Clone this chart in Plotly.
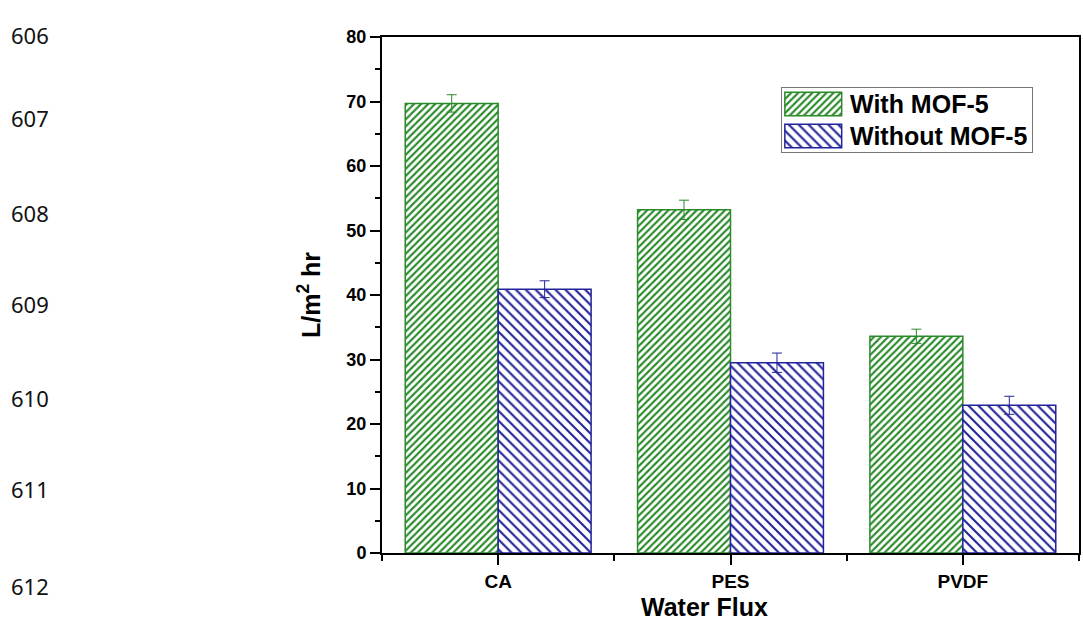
import plotly.graph_objects as go

# Membrane types and measured water flux (L/m2 hr)
categories = ["CA", "PES", "PVDF"]
with_mof = [69.7, 53.2, 33.6]
with_mof_err = [1.35, 1.5, 1.1]
without_mof = [40.9, 29.5, 22.9]
without_mof_err = [1.3, 1.5, 1.4]
y_ticks = [0, 10, 20, 30, 40, 50, 60, 70, 80]
series_names = ["With MOF-5", "Without MOF-5"]
line_numbers = ["606", "607", "608", "609", "610", "611", "612"]

x_pos = list(range(len(categories)))

GREEN = "#2a8a2a"
BLUE = "#22229a"
FONT = "Liberation Sans, Arial, sans-serif"

green_pattern = dict(shape="/", fgcolor=GREEN, bgcolor="white", fgopacity=1,
                     size=5, solidity=0.42, fillmode="overlay")
blue_pattern = dict(shape="\\", fgcolor=BLUE, bgcolor="white", fgopacity=1,
                    size=7, solidity=0.3, fillmode="overlay")

fig = go.Figure()
fig.add_trace(go.Bar(
    x=x_pos, y=with_mof, name=series_names[0], showlegend=False,
    marker=dict(color="white", line=dict(color=GREEN, width=1.5), pattern=green_pattern),
    error_y=dict(type="data", array=with_mof_err, color=GREEN, thickness=1, width=5),
))
fig.add_trace(go.Bar(
    x=x_pos, y=without_mof, name=series_names[1], showlegend=False,
    marker=dict(color="white", line=dict(color=BLUE, width=1.5), pattern=blue_pattern),
    error_y=dict(type="data", array=without_mof_err, color=BLUE, thickness=1, width=5),
))

# Legend box drawn on its own small axes so the keys are large hatched swatches
for i, (name, pat, col) in enumerate(zip(series_names,
                                         [green_pattern, blue_pattern],
                                         [GREEN, BLUE])):
    fig.add_trace(go.Bar(
        x=[57], y=[i + 0.5], base=[3], orientation="h", width=0.74,
        xaxis="x2", yaxis="y2", showlegend=False, hoverinfo="skip",
        marker=dict(color="white", line=dict(color=col, width=1.5), pattern=pat),
    ))
    fig.add_annotation(
        text=f"<b>{name}</b>", xref="x2", yref="y2", x=66, y=i + 0.5,
        xanchor="left", yanchor="middle", showarrow=False,
        font=dict(family=FONT, size=25, color="black"),
    )

# X axis title, set slightly left of the plot centre
fig.add_annotation(
    text="<b>Water Flux</b>", xref="paper", yref="paper",
    x=(705 - 382) / 699, y=(553 - 607) / 516, xanchor="center", yanchor="middle",
    showarrow=False, font=dict(family=FONT, size=25, color="black"),
)

# Document line numbers down the left margin
line_y = [35, 118, 213, 304, 398, 489, 586]
for txt, yy in zip(line_numbers, line_y):
    fig.add_annotation(
        text=txt, xref="paper", yref="paper",
        x=-374 / 699, xanchor="left",
        y=(553 - yy) / 516, yanchor="middle",
        showarrow=False, font=dict(family="Noto Sans, sans-serif", size=22, color="#111"),
    )

fig.update_layout(
    width=1083, height=623,
    margin=dict(l=382, r=2, t=37, b=70),
    paper_bgcolor="white", plot_bgcolor="white",
    barmode="group", bargap=0.2, bargroupgap=0,
    font=dict(family=FONT, color="black"),
    showlegend=False,
    xaxis=dict(
        range=[-0.5, 2.5],
        tickvals=x_pos, ticktext=[f"<b>{c}</b>" for c in categories],
        ticks="outside", ticklen=10, tickwidth=2, tickcolor="black",
        minor=dict(tickvals=[-0.5, 0.5, 1.5, 2.5], ticks="outside", ticklen=6,
                   tickwidth=2, tickcolor="black"),
        showline=True, linecolor="black", linewidth=2, mirror=True,
        showgrid=False, zeroline=False,
        tickfont=dict(family=FONT, size=19),
    ),
    yaxis=dict(
        range=[0, 80],
        tickvals=y_ticks, ticktext=[f"<b>{v}</b>" for v in y_ticks],
        ticks="outside", ticklen=10, tickwidth=2, tickcolor="black",
        minor=dict(dtick=5, ticks="outside", ticklen=5, tickwidth=2, tickcolor="black"),
        showline=True, linecolor="black", linewidth=2, mirror=True,
        showgrid=False, zeroline=False,
        tickfont=dict(family=FONT, size=18),
        title=dict(text="<b>L/m<sup>2</sup> hr</b>", font=dict(family=FONT, size=25), standoff=19),
    ),
    xaxis2=dict(domain=[(783 - 382) / 699, (1034 - 382) / 699], range=[0, 251],
                anchor="y2", showline=True, mirror=True, linecolor="#777", linewidth=1,
                showticklabels=False, ticks="", showgrid=False, zeroline=False,
                fixedrange=True),
    yaxis2=dict(domain=[(553 - 152) / 516, (553 - 88) / 516], range=[2, 0],
                anchor="x2", showline=True, mirror=True, linecolor="#777", linewidth=1,
                showticklabels=False, ticks="", showgrid=False, zeroline=False,
                fixedrange=True),
)

fig.write_html("out.html")
